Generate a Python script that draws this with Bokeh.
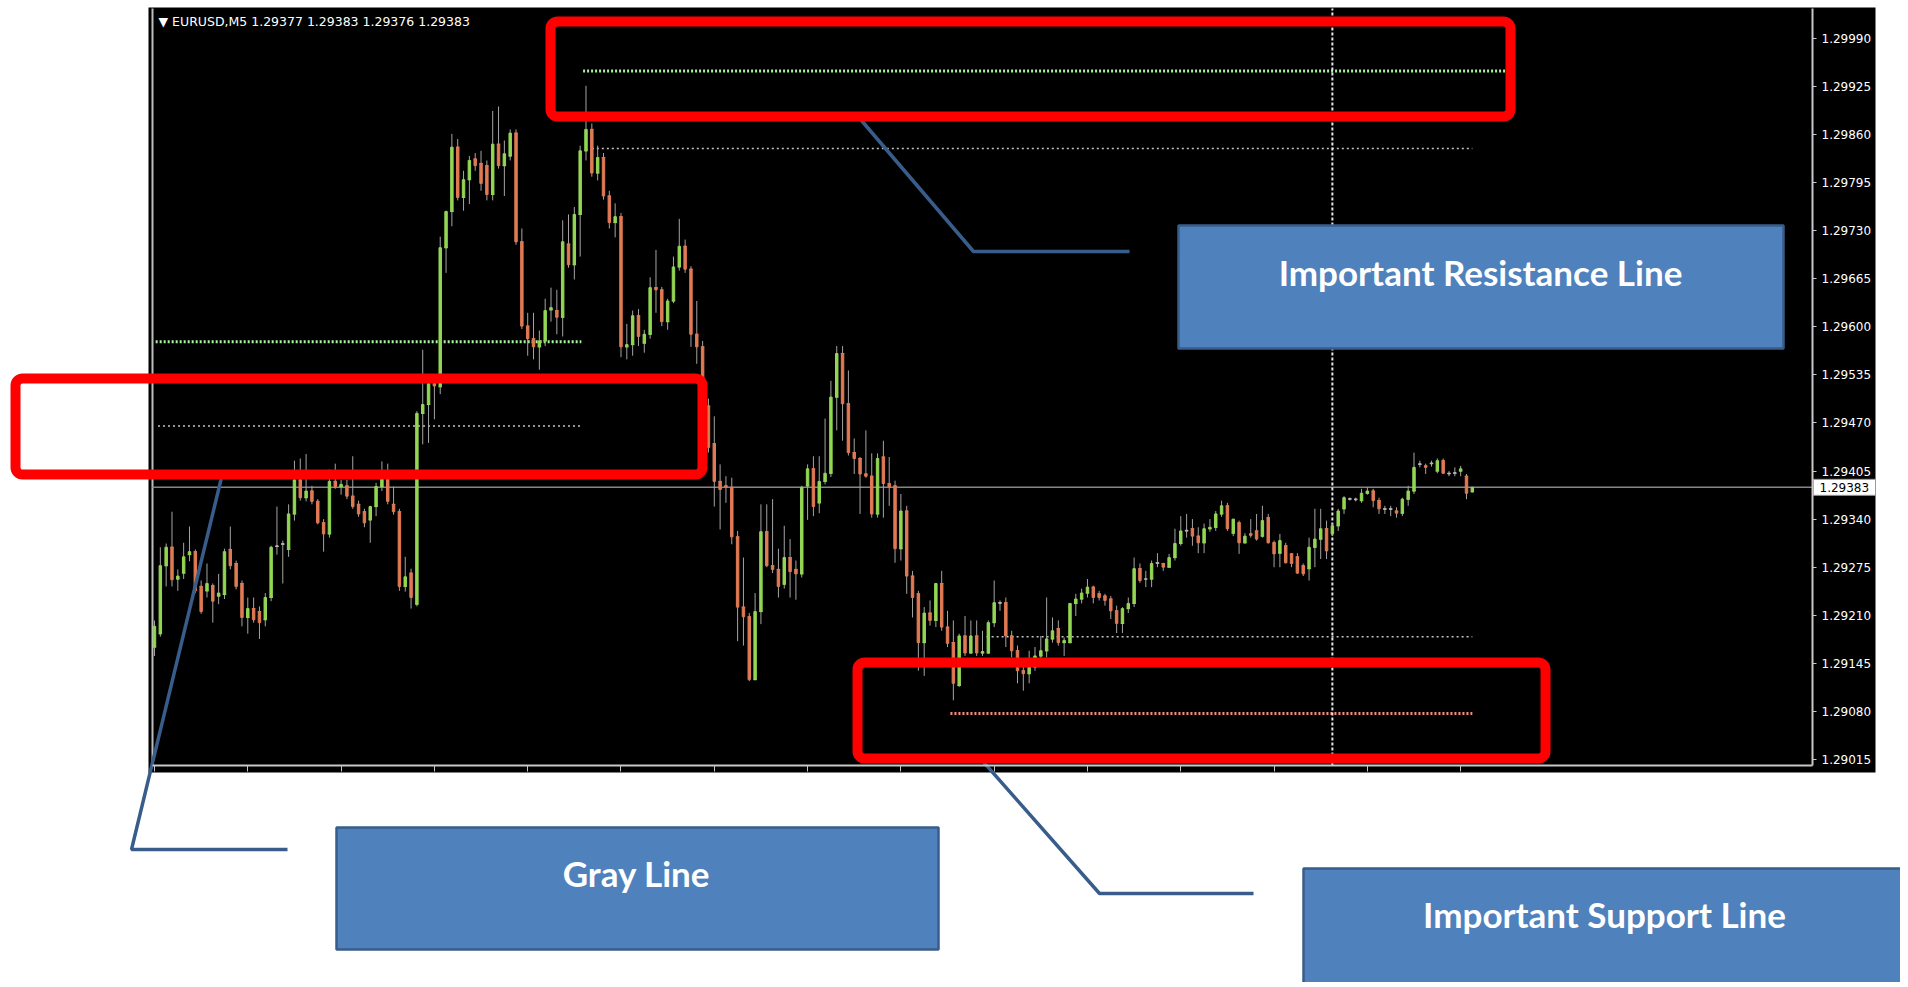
from bokeh.plotting import figure
from bokeh.models import (Range1d, LinearAxis, FixedTicker, PrintfTickFormatter,
                          ColumnDataSource, BoxAnnotation)
from bokeh.core.properties import value
from bokeh.embed import file_html
from bokeh.resources import INLINE

# ---------------- data (prices in points, 1 point = 0.00001) ----------------
SYMBOL = "EURUSD,M5"
PT = 1e-5

OPEN_PTS = [
    129167,129185,129277,129302,129259,129267,129292,129296,129249,129243,
    129250,129236,129238,129299,129280,129253,129207,129219,129215,129204,
    129234,129303,129306,129299,129347,129393,129369,129378,129364,129335,
    129320,129391,129384,129385,129371,129360,129350,129339,129357,129384,
    129397,129360,129350,129249,129267,129225,129483,129495,129523,129519,
    129707,129756,129843,129775,129799,129827,129821,129818,129779,129847,
    129818,129831,129862,129715,129601,129584,129573,129581,129623,129622,
    129613,129712,129684,129752,129838,129867,129808,129829,129777,129741,
    129749,129573,129576,129615,129578,129590,129653,129650,129607,129635,
    129681,129709,129678,129590,129573,129493,129442,129391,129385,129383,
    129316,129221,129208,129123,129215,129323,129277,129272,129252,129288,
    129272,129266,129385,129408,129362,129391,129402,129505,129564,129496,
    129430,129422,129401,129398,129347,129424,129388,129385,129300,129351,
    129263,129239,129173,129213,129203,129253,129194,129173,129115,129182,
    129159,129182,129159,129159,129200,129227,129227,129182,129162,129135,
    129131,129140,129155,129162,129178,129192,129173,129173,129226,129232,
    129240,129248,129239,129236,129232,129216,129199,129219,129226,129273,
    129259,129259,129281,129280,129275,129288,129307,129324,129327,129317,
    129308,129327,129329,129347,129358,129321,129335,129308,129320,129324,
    129317,129342,129308,129294,129304,129293,129289,129277,129273,129302,
    129313,129327,129321,129331,129354,129367,129367,129365,129375,129378,
    129365,129354,129354,129351,129348,129367,129378,129414,129412,129415,
    129405,129419,129402,129402,129405,129398,129377]

HIGH_PTS = [
    129203,129302,129307,129350,129272,129308,129330,129299,129257,129280,
    129253,129266,129300,129330,129284,129257,129234,129234,129222,129240,
    129304,129357,129311,129360,129419,129422,129428,129385,129367,129340,
    129407,129415,129393,129393,129425,129365,129354,129358,129389,129418,
    129415,129384,129354,129289,129273,129486,129569,129527,129533,129722,
    129757,129861,129854,129811,129831,129835,129838,129825,129892,129898,
    129852,129867,129867,129733,129619,129619,129595,129638,129653,129650,
    129744,129752,129762,129845,129926,129875,129845,129835,129784,129767,
    129754,129604,129622,129624,129596,129667,129704,129654,129638,129695,
    129746,129718,129682,129635,129581,129503,129479,129414,129398,129396,
    129324,129288,129213,129240,129360,129360,129367,129300,129331,129313,
    129284,129385,129414,129425,129425,129476,129527,129574,129574,129541,
    129449,129424,129460,129429,129429,129446,129424,129392,129374,129358,
    129270,129243,129221,129230,129253,129270,129216,129203,129185,129209,
    129203,129203,129189,129203,129257,129230,129234,129189,129169,129149,
    129162,129167,129182,129234,129207,129203,129180,129226,129239,129246,
    129259,129250,129243,129239,129236,129223,129221,129234,129288,129280,
    129270,129284,129294,129281,129293,129327,129344,129347,129340,129329,
    129334,129340,129351,129365,129362,129339,129338,129321,129340,129347,
    129358,129347,129311,129320,129308,129294,129294,129280,129315,129354,
    129354,129338,129334,129354,129371,129369,129369,129381,129383,129381,
    129369,129358,129358,129356,129369,129385,129430,129419,129415,129419,
    129422,129422,129405,129410,129412,129401,129383]

LOW_PTS = [
    129155,129181,129249,129249,129243,129259,129283,129240,129212,129234,
    129200,129225,129232,129272,129245,129195,129185,129200,129178,129195,
    129229,129292,129253,129289,129338,129365,129364,129360,129333,129296,
    129315,129381,129373,129367,129354,129343,129329,129308,129344,129378,
    129360,129346,129243,129242,129219,129222,129441,129443,129475,129509,
    129673,129736,129771,129757,129766,129811,129784,129771,129771,129814,
    129777,129825,129711,129597,129561,129556,129542,129574,129607,129590,
    129587,129680,129664,129695,129825,129803,129798,129772,129733,129721,
    129559,129556,129561,129574,129565,129584,129619,129601,129596,129632,
    129676,129673,129573,129550,129487,129430,129357,129326,129362,129306,
    129175,129169,129121,129122,129198,129275,129267,129234,129246,129234,
    129231,129261,129339,129344,129348,129387,129397,129460,129446,129426,
    129401,129347,129396,129342,129342,129342,129358,129281,129284,129239,
    129207,129135,129128,129196,129194,129189,129167,129095,129113,129155,
    129158,129155,129155,129158,129194,129216,129167,129153,129118,129108,
    129118,129135,129149,129153,129173,129169,129155,129172,129209,129226,
    129234,129226,129230,129223,129205,129186,129186,129213,129221,129254,
    129248,129248,129275,129270,129275,129284,129304,129315,129304,129294,
    129294,129323,129324,129343,129324,129317,129293,129307,129315,129311,
    129315,129307,129275,129275,129280,129275,129266,129263,129257,129275,
    129286,129286,129317,129324,129347,129365,129364,129362,129373,129356,
    129347,129347,129344,129342,129344,129358,129374,129410,129401,129411,
    129402,129401,129398,129398,129398,129367,129376]

CLOSE_PTS = [
    129195,129277,129302,129258,129263,129289,129296,129243,129215,129253,
    129229,129240,129296,129277,129249,129207,129219,129204,129200,129234,
    129302,129304,129307,129347,129393,129369,129378,129364,129335,129320,
    129391,129384,129387,129371,129357,129347,129335,129357,129384,129397,
    129364,129350,129249,129262,129234,129483,129495,129523,129520,129707,
    129756,129843,129775,129799,129825,129818,129794,129779,129847,129818,
    129834,129862,129715,129601,129584,129573,129581,129622,129626,129613,
    129715,129684,129752,129838,129867,129808,129829,129777,129741,129749,
    129573,129576,129615,129587,129590,129653,129650,129607,129635,129681,
    129709,129678,129590,129573,129493,129437,129391,129380,129383,129316,
    129221,129208,129123,129215,129323,129277,129272,129249,129288,129269,
    129266,129383,129408,129357,129391,129402,129505,129564,129496,129430,
    129422,129401,129398,129347,129422,129388,129383,129300,129351,129263,
    129234,129173,129213,129203,129253,129194,129172,129118,129182,129159,
    129182,129159,129161,129200,129227,129226,129182,129162,129135,129131,
    129140,129155,129162,129178,129189,129173,129176,129226,129232,129240,
    129248,129234,129234,129230,129216,129199,129219,129226,129273,129257,
    129259,129280,129280,129275,129288,129307,129324,129325,129317,129308,
    129327,129329,129347,129358,129327,129340,129308,129317,129318,129313,
    129338,129308,129293,129311,129281,129280,129267,129266,129302,129313,
    129327,129297,129331,129351,129369,129368,129366,129375,129378,129365,
    129354,129353,129353,129348,129367,129378,129410,129415,129410,129416,
    129419,129402,129401,129403,129408,129375,129383]

PRICE_TICKS = [1.29015, 1.29080, 1.29145, 1.29210, 1.29275, 1.29340, 1.29405, 1.29470,
               1.29535, 1.29600, 1.29665, 1.29730, 1.29795, 1.29860, 1.29925, 1.29990]
TIME_TICK_BARS = [0, 16, 32, 48, 64, 80, 96, 112, 128, 144, 160, 176, 192, 208, 224]

LEVEL_PRICES = [1.29946, 1.29841, 1.29580, 1.29466, 1.29181, 1.29077]
LEVEL_START = [73.5, 75.0, 0.2, 0.6, 142.7, 136.5]
LEVEL_END = [231.7, 226.0, 73.2, 73.2, 226.0, 226.0]
LEVEL_COLORS = ["#a8f5a0", "#c4c4c4", "#a8f5a0", "#c4c4c4", "#c4c4c4", "#ff8a7a"]
LEVEL_WIDTHS = [3, 1.5, 3, 1.5, 1.5, 3]
LEVEL_DASHES = ["2 2", "2 3", "2 2", "2 3", "2 3", "2 2"]
VLINE_BAR = 202

CALLOUT_TEXTS = ["Important Resistance Line", "Gray Line", "Important Support Line"]

# ---------------- geometry of the page ----------------
W, H = 1900, 982
X_RANGE = (-26.41, 299.43)          # bar index across the whole canvas
Y_RANGE = (1.287134, 1.300413)      # price across the whole canvas
CHART_X = (-0.343, 284.34)          # chart frame in bars
CHART_Y = (1.290067, 1.300305)      # chart frame in price

p = figure(frame_width=W, frame_height=H,
           x_range=Range1d(*X_RANGE), y_range=Range1d(*Y_RANGE),
           x_axis_type=None, y_axis_type=None,
           output_backend="svg", toolbar_location=None, min_border=0,
           background_fill_color="white", border_fill_color="white",
           outline_line_color=None)
p.grid.visible = False
p.extra_x_ranges = {"px": Range1d(0, W)}
p.extra_y_ranges = {"py": Range1d(H, 0)}

# black chart panel
p.quad(left=[148], right=[1875], top=[7], bottom=[772], x_range_name="px", y_range_name="py",
       fill_color="black", line_color=None)
p.segment(x0=[152], x1=[152], y0=[8], y1=[765], x_range_name="px", y_range_name="py",
          line_color="#bdbdbd", line_width=2)

# level lines
for pr, s, e, col, w, d in zip(LEVEL_PRICES, LEVEL_START, LEVEL_END, LEVEL_COLORS, LEVEL_WIDTHS, LEVEL_DASHES):
    p.segment(x0=[s], x1=[e], y0=[pr], y1=[pr], line_color=col, line_width=w, line_dash=d)

cur_price = CLOSE_PTS[-1] * PT
p.segment(x0=[CHART_X[0]], x1=[CHART_X[1]], y0=[cur_price], y1=[cur_price],
          line_color="#858585", line_width=1.5)
p.segment(x0=[VLINE_BAR], x1=[VLINE_BAR], y0=[CHART_Y[0]], y1=[CHART_Y[1]],
          line_color="#e8e8e8", line_width=2, line_dash="3 2")

# candles
n = len(CLOSE_PTS)
bars = list(range(n))
o = [v * PT for v in OPEN_PTS]
h = [v * PT for v in HIGH_PTS]
l = [v * PT for v in LOW_PTS]
c = [v * PT for v in CLOSE_PTS]
colors = []
for oo, cc in zip(OPEN_PTS, CLOSE_PTS):
    if cc - oo > 1:
        colors.append("#93d654")
    elif oo - cc > 1:
        colors.append("#e07a54")
    else:
        colors.append("#b4b4b4")
src = ColumnDataSource(dict(x=bars, o=o, h=h, l=l, c=c,
                            top=[max(a, b) for a, b in zip(o, c)],
                            bottom=[min(a, b) for a, b in zip(o, c)],
                            x0=[b - 0.3 for b in bars], x1=[b + 0.3 for b in bars],
                            color=colors))
p.segment(x0="x", y0="l", x1="x", y1="h", source=src, line_color="#a4a4a4", line_width=1)
p.segment(x0="x0", y0="o", x1="x1", y1="o", source=src, line_color="color", line_width=1)
p.vbar(x="x", width=0.42, top="top", bottom="bottom", source=src,
       fill_color="color", line_color="color", line_width=1)

# axes (drawn inside the canvas at the chart frame edges)
yax = LinearAxis(fixed_location=CHART_X[1], bounds=CHART_Y,
                 ticker=FixedTicker(ticks=PRICE_TICKS),
                 formatter=PrintfTickFormatter(format="%.5f"),
                 axis_line_color="#c8c8c8", axis_line_width=2,
                 major_tick_line_color="#c8c8c8", major_tick_in=0, major_tick_out=4,
                 minor_tick_line_color=None,
                 major_label_text_color="white", major_label_text_font="DejaVu Sans",
                 major_label_text_font_size="12px", major_label_standoff=5)
p.add_layout(yax, "right")
xax = LinearAxis(fixed_location=CHART_Y[0], bounds=CHART_X,
                 ticker=FixedTicker(ticks=TIME_TICK_BARS),
                 major_label_overrides={t: "" for t in TIME_TICK_BARS},
                 axis_line_color="#c8c8c8", axis_line_width=2,
                 major_tick_line_color="#c8c8c8", major_tick_in=0, major_tick_out=6,
                 minor_tick_line_color=None, major_label_text_color=None)
p.add_layout(xax, "below")

# current price tag
tag_half = 8 * 1.3522 * PT
p.quad(left=[1813], right=[1875], bottom=[cur_price - tag_half], top=[cur_price + tag_half],
       x_range_name="px", fill_color="white", line_color="#9a9a9a")
p.text(x=[1819], y=[cur_price], text=[f"{cur_price:.5f}"], x_range_name="px",
       text_color="black", text_font=value("DejaVu Sans"), text_font_size="12px",
       text_baseline="middle")

# header
hdr = "\u25bc " + SYMBOL + "  " + " ".join(f"{v * PT:.5f}" for v in
                                       (OPEN_PTS[-1], HIGH_PTS[-1], LOW_PTS[-1], CLOSE_PTS[-1]))
p.text(x=[158], y=[21], text=[hdr], x_range_name="px", y_range_name="py",
       text_color="white", text_font=value("DejaVu Sans"), text_font_size="12.5px",
       text_baseline="middle")

# ---------------- callouts ----------------
BLUE_FILL, BLUE_LINE = "#4f81bd", "#385d8a"
for (lft, rgt, tp, bt) in [(1178, 1783, 225, 348), (336, 938, 827, 949), (1303, 1905, 868, 995)]:
    p.quad(left=[lft], right=[rgt], top=[tp], bottom=[bt], x_range_name="px", y_range_name="py",
           fill_color=BLUE_FILL, line_color=BLUE_LINE, line_width=2.5)
for txt, (tx, ty) in zip(CALLOUT_TEXTS, [(1480, 271), (636, 872), (1604, 913)]):
    p.text(x=[tx], y=[ty], text=[txt], x_range_name="px", y_range_name="py",
           text_color="white", text_font=value("Lato"), text_font_style="bold",
           text_font_size="35px", text_align="center", text_baseline="middle")
for xs, ys in [([855, 973, 1129], [113, 251, 251]),
               ([221, 131, 287], [477, 849, 849]),
               ([979, 1099, 1253], [757, 893, 893])]:
    p.line(x=xs, y=ys, x_range_name="px", y_range_name="py", line_color=BLUE_LINE, line_width=3.5)

for (lft, rgt, tp, bt) in [(550, 1510, 21, 116), (15, 702, 378, 474), (857, 1545, 662, 758)]:
    p.add_layout(BoxAnnotation(left=lft, right=rgt, top=tp, bottom=bt,
                               x_range_name="px", y_range_name="py",
                               fill_color=None, fill_alpha=0,
                               line_color="#ff0000", line_alpha=1.0, line_width=10,
                               border_radius=7))

open("out.html", "w").write(file_html(p, INLINE))
